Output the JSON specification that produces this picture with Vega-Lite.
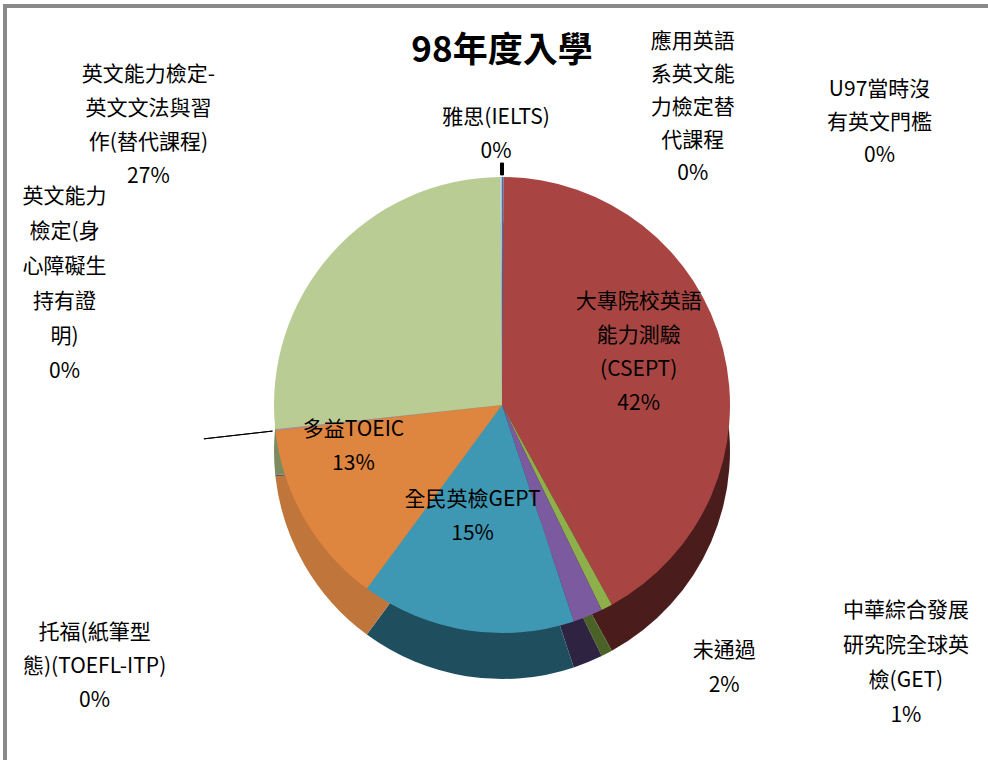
{
  "$schema": "https://vega.github.io/schema/vega-lite/v6.json",
  "width": 994,
  "height": 798,
  "autosize": {"type": "none"},
  "padding": {"left": 5, "top": 6, "right": -11, "bottom": -44},
  "background": "white",
  "config": {
    "view": {"stroke": null},
    "text": {"font": "Noto Sans CJK TC", "fontSize": 21, "color": "#000000"}
  },
  "title": {
    "text": "98年度入學",
    "font": "Noto Sans CJK TC",
    "fontSize": 35,
    "fontWeight": "bold",
    "color": "#000000",
    "anchor": "middle",
    "frame": "group",
    "offset": -64
  },
  "data": {
    "values": [
      {"ord": 1, "category": "應用英語系英文能力檢定替代課程", "value": 0.1, "label": "應用英語\n系英文能\n力檢定替\n代課程\n0%"},
      {"ord": 2, "category": "U97當時沒有英文門檻", "value": 0.0, "label": "U97當時沒\n有英文門檻\n0%"},
      {"ord": 3, "category": "大專院校英語能力測驗(CSEPT)", "value": 41.9, "label": "大專院校英語\n能力測驗\n(CSEPT)\n42%"},
      {"ord": 4, "category": "中華綜合發展研究院全球英檢(GET)", "value": 0.8, "label": "中華綜合發展\n研究院全球英\n檢(GET)\n1%"},
      {"ord": 5, "category": "未通過", "value": 2.1, "label": "未通過\n2%"},
      {"ord": 6, "category": "全民英檢GEPT", "value": 15.2, "label": "全民英檢GEPT\n15%"},
      {"ord": 7, "category": "多益TOEIC", "value": 13.1, "label": "多益TOEIC\n13%"},
      {"ord": 8, "category": "托福(紙筆型態)(TOEFL-ITP)", "value": 0.0, "label": "托福(紙筆型\n態)(TOEFL-ITP)\n0%"},
      {"ord": 9, "category": "英文能力檢定(身心障礙生持有證明)", "value": 0.1, "label": "英文能力\n檢定(身\n心障礙生\n持有證\n明)\n0%"},
      {"ord": 10, "category": "英文能力檢定-英文文法與習作(替代課程)", "value": 26.6, "label": "英文能力檢定-\n英文文法與習\n作(替代課程)\n27%"},
      {"ord": 11, "category": "雅思(IELTS)", "value": 0.1, "label": "雅思(IELTS)\n0%"}
    ]
  },
  "layer": [
    {
      "mark": {"type": "rect", "fill": null, "filled": false, "stroke": "#8a8a8a", "strokeWidth": 3},
      "encoding": {}
    },
    {
      "encoding": {
        "theta": {"field": "value", "type": "quantitative", "stack": true},
        "order": {"field": "ord", "type": "quantitative"}
      },
      "layer": [
        {
          "mark": {"type": "arc", "radius": 228, "yOffset": 46, "strokeWidth": 0},
          "encoding": {
            "color": {
              "field": "category",
              "type": "nominal",
              "legend": null,
              "scale": {
                "domain": ["應用英語系英文能力檢定替代課程", "U97當時沒有英文門檻", "大專院校英語能力測驗(CSEPT)", "中華綜合發展研究院全球英檢(GET)", "未通過", "全民英檢GEPT", "多益TOEIC", "托福(紙筆型態)(TOEFL-ITP)", "英文能力檢定(身心障礙生持有證明)", "英文能力檢定-英文文法與習作(替代課程)", "雅思(IELTS)"],
                "range": ["#233f66", "#2c4a70", "#4a1c1b", "#4b6226", "#2e2442", "#1f4f5f", "#c0763a", "#1c3350", "#6e4a4e", "#7d8c60", "#5a7a9c"]
              }
            }
          }
        },
        {
          "mark": {"type": "arc", "radius": 228, "strokeWidth": 0},
          "encoding": {
            "color": {
              "field": "category",
              "type": "nominal",
              "legend": null,
              "scale": {
                "domain": ["應用英語系英文能力檢定替代課程", "U97當時沒有英文門檻", "大專院校英語能力測驗(CSEPT)", "中華綜合發展研究院全球英檢(GET)", "未通過", "全民英檢GEPT", "多益TOEIC", "托福(紙筆型態)(TOEFL-ITP)", "英文能力檢定(身心障礙生持有證明)", "英文能力檢定-英文文法與習作(替代課程)", "雅思(IELTS)"],
                "range": ["#3e71b5", "#4f81bd", "#a84542", "#8db04a", "#7b5a9f", "#3f98b3", "#de8540", "#2c4d75", "#b98a90", "#b8cc94", "#9cc0e3"]
              }
            }
          }
        },
        {
          "mark": {"type": "arc", "radius": 242, "radius2": 230, "fill": "#000000", "stroke": "#000000", "strokeWidth": 1},
          "encoding": {
            "opacity": {
              "condition": {"test": "indexof(['應用英語系英文能力檢定替代課程','U97當時沒有英文門檻','雅思(IELTS)'], datum.category) >= 0", "value": 1},
              "value": 0
            }
          }
        },
        {
          "mark": {"type": "arc", "radius": 300, "radius2": 231, "fill": "#000000", "stroke": "#000000", "strokeWidth": 1},
          "encoding": {
            "opacity": {
              "condition": {"test": "datum.category === '托福(紙筆型態)(TOEFL-ITP)'", "value": 1},
              "value": 0
            }
          }
        },
        {
          "mark": {"type": "text", "radius": 141, "align": "center", "baseline": "middle", "lineBreak": "\n", "lineHeight": 34, "dy": -68},
          "encoding": {
            "text": {"condition": {"test": "datum.category === '大專院校英語能力測驗(CSEPT)'", "field": "label"}, "value": ""}
          }
        },
        {
          "mark": {"type": "text", "radius": 137, "align": "center", "baseline": "middle", "lineBreak": "\n", "lineHeight": 34, "dy": -40, "dx": -8},
          "encoding": {
            "text": {"condition": {"test": "datum.category === '全民英檢GEPT'", "field": "label"}, "value": ""}
          }
        },
        {
          "mark": {"type": "text", "radius": 137, "align": "center", "baseline": "middle", "lineBreak": "\n", "lineHeight": 34, "dy": -44, "dx": -30},
          "encoding": {
            "text": {"condition": {"test": "datum.category === '多益TOEIC'", "field": "label"}, "value": ""}
          }
        },
        {
          "mark": {"type": "text", "radius": 287, "align": "center", "baseline": "middle", "lineBreak": "\n", "lineHeight": 34, "dx": -5},
          "encoding": {
            "text": {"condition": {"test": "datum.category === '雅思(IELTS)'", "field": "label"}, "value": ""}
          }
        },
        {
          "mark": {"type": "text", "radius": 250, "align": "center", "baseline": "middle", "lineBreak": "\n", "lineHeight": 33, "dx": 190, "dy": -113},
          "encoding": {
            "text": {"condition": {"test": "datum.category === '應用英語系英文能力檢定替代課程'", "field": "label"}, "value": ""}
          }
        },
        {
          "mark": {"type": "text", "radius": 250, "align": "center", "baseline": "middle", "lineBreak": "\n", "lineHeight": 33, "dx": 376, "dy": -65},
          "encoding": {
            "text": {"condition": {"test": "datum.category === 'U97當時沒有英文門檻'", "field": "label"}, "value": ""}
          }
        },
        {
          "mark": {"type": "text", "radius": 250, "align": "center", "baseline": "middle", "lineBreak": "\n", "lineHeight": 35, "dx": 289, "dy": -16},
          "encoding": {
            "text": {"condition": {"test": "datum.category === '中華綜合發展研究院全球英檢(GET)'", "field": "label"}, "value": ""}
          }
        },
        {
          "mark": {"type": "text", "radius": 250, "align": "center", "baseline": "middle", "lineBreak": "\n", "lineHeight": 35, "dx": 128, "dy": 14},
          "encoding": {
            "text": {"condition": {"test": "datum.category === '未通過'", "field": "label"}, "value": ""}
          }
        },
        {
          "mark": {"type": "text", "radius": 250, "align": "center", "baseline": "middle", "lineBreak": "\n", "lineHeight": 34, "dx": -159, "dy": 200},
          "encoding": {
            "text": {"condition": {"test": "datum.category === '托福(紙筆型態)(TOEFL-ITP)'", "field": "label"}, "value": ""}
          }
        },
        {
          "mark": {"type": "text", "radius": 100, "align": "center", "baseline": "middle", "lineBreak": "\n", "lineHeight": 35, "dx": -338, "dy": -219},
          "encoding": {
            "text": {"condition": {"test": "datum.category === '英文能力檢定(身心障礙生持有證明)'", "field": "label"}, "value": ""}
          }
        },
        {
          "mark": {"type": "text", "radius": 100, "align": "center", "baseline": "middle", "lineBreak": "\n", "lineHeight": 34, "dx": -279, "dy": -263},
          "encoding": {
            "text": {"condition": {"test": "datum.category === '英文能力檢定-英文文法與習作(替代課程)'", "field": "label"}, "value": ""}
          }
        }
      ],
      "resolve": {"scale": {"color": "independent"}}
    }
  ]
}
